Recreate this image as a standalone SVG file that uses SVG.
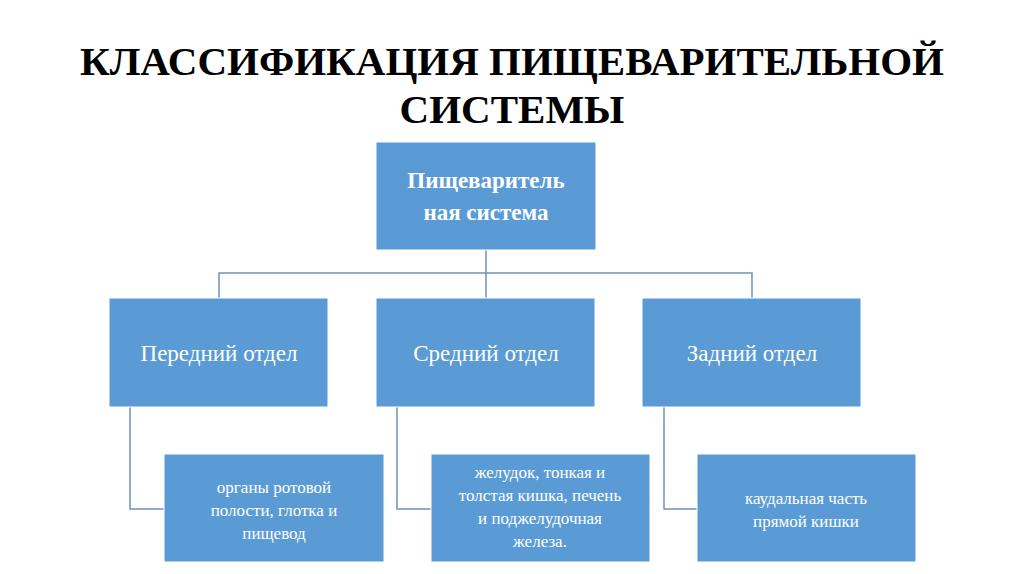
<svg xmlns="http://www.w3.org/2000/svg" width="1024" height="574" viewBox="0 0 1024 574">
<style>
.b{fill:#5b9bd5;stroke:#ffffff;stroke-width:1}
.t{font-family:"Liberation Serif",serif;fill:#fff;text-anchor:middle}
.c{fill:none;stroke:#6f93bb;stroke-width:1.5}
.h{font-family:"Liberation Serif",serif;font-weight:bold;font-size:41px;text-anchor:middle;fill:#000}
</style>
<rect width="1024" height="574" fill="#fff"/>
<text class="h" x="512" y="75">КЛАССИФИКАЦИЯ ПИЩЕВАРИТЕЛЬНОЙ</text>
<text class="h" x="512" y="123">СИСТЕМЫ</text>
<g id="connectors">
<path class="c" d="M486 250V298M219 298V273H752V298"/>
<path class="c" d="M130 407V509H164"/>
<path class="c" d="M397 407V509H431"/>
<path class="c" d="M664 407V509H697"/>
</g>
<g id="root"><rect class="b" x="376" y="142" width="220" height="108"/>
<text class="t" font-size="23" font-weight="bold" x="486" y="188">Пищеваритель</text>
<text class="t" font-size="23" font-weight="bold" x="486" y="220">ная система</text></g>
<g id="n1"><rect class="b" x="109" y="298" width="219" height="109"/><text class="t" font-size="23" x="219" y="361">Передний отдел</text></g>
<g id="n2"><rect class="b" x="376" y="298" width="219" height="109"/><text class="t" font-size="23" x="486" y="361">Средний отдел</text></g>
<g id="n3"><rect class="b" x="642" y="298" width="219" height="109"/><text class="t" font-size="23" x="752" y="361">Задний отдел</text></g>
<g id="l1"><rect class="b" x="164" y="454" width="220" height="108"/>
<text class="t" font-size="17" x="274" y="493">органы ротовой</text>
<text class="t" font-size="17" x="274" y="516">полости, глотка и</text>
<text class="t" font-size="17" x="274" y="539">пищевод</text></g>
<g id="l2"><rect class="b" x="431" y="454" width="219" height="108"/>
<text class="t" font-size="17" x="540" y="478">желудок, тонкая и</text>
<text class="t" font-size="17" x="540" y="501">толстая кишка, печень</text>
<text class="t" font-size="17" x="540" y="524">и поджелудочная</text>
<text class="t" font-size="17" x="540" y="547">железа.</text></g>
<g id="l3"><rect class="b" x="697" y="454" width="219" height="108"/>
<text class="t" font-size="17" x="806" y="504">каудальная часть</text>
<text class="t" font-size="17" x="806" y="527">прямой кишки</text></g>
</svg>
